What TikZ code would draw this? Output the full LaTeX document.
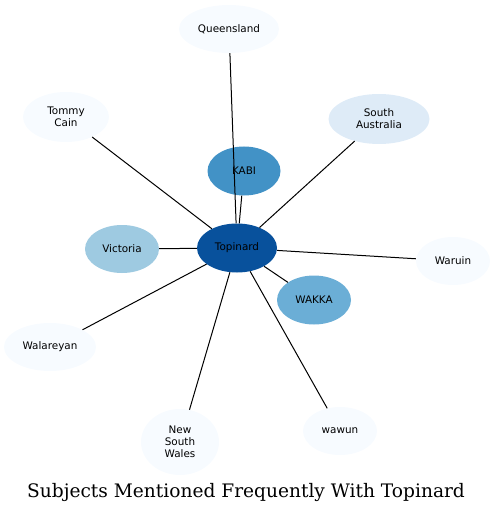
\documentclass[tikz,border=0pt]{standalone}
\usepackage{fontspec}
\setmainfont{DejaVu Sans}
\newfontfamily\titlefont{DejaVu Serif}
\usetikzlibrary{shapes.geometric}
\definecolor{b1}{HTML}{F7FBFF}
\definecolor{b2}{HTML}{DEEBF7}
\definecolor{b3}{HTML}{9ECAE1}
\definecolor{b4}{HTML}{6BAED6}
\definecolor{b5}{HTML}{4292C6}
\definecolor{b6}{HTML}{08519C}
\tikzset{
  ent/.style={ellipse, inner sep=0pt, draw=none, align=center,
    font=\fontsize{10.4bp}{12bp}\selectfont},
  edge/.style={draw=black, line width=1bp},
}
\begin{document}
\begin{tikzpicture}[x=1bp,y=-1bp]
\useasboundingbox (0,0) rectangle (495,512);
\node[ent, fill=b1, minimum width=100bp, minimum height=48bp] (qld) at (229,29) {Queensland};
\node[ent, fill=b1, minimum width=86bp, minimum height=50bp] (tom) at (66,117) {Tommy\\Cain};
\node[ent, fill=b2, minimum width=101bp, minimum height=50bp] (sa) at (379,119) {South\\Australia};
\node[ent, fill=b5, minimum width=73bp, minimum height=49bp] (kabi) at (244,171) {KABI};
\node[ent, fill=b6, minimum width=80bp, minimum height=49bp] (top) at (237,248) {Topinard};
\node[ent, fill=b3, minimum width=74bp, minimum height=48bp] (vic) at (122,249) {Victoria};
\node[ent, fill=b1, minimum width=74bp, minimum height=48bp] (war) at (453,261) {Waruin};
\node[ent, fill=b4, minimum width=74bp, minimum height=49bp] (wak) at (314,300) {WAKKA};
\node[ent, fill=b1, minimum width=92bp, minimum height=48bp] (wal) at (50,347) {Walareyan};
\node[ent, fill=b1, minimum width=78bp, minimum height=66bp] (nsw) at (180,442) {New\\South\\Wales};
\node[ent, fill=b1, minimum width=74bp, minimum height=48bp] (waw) at (340,431) {wawun};
\foreach \n in {qld,tom,sa,kabi,vic,war,wak,wal,nsw,waw}
  \draw[edge] (top) -- (\n);
\node[font=\titlefont\fontsize{18.6bp}{20bp}\selectfont] (title) at (246,492) {Subjects Mentioned Frequently With Topinard};
\end{tikzpicture}
\end{document}
